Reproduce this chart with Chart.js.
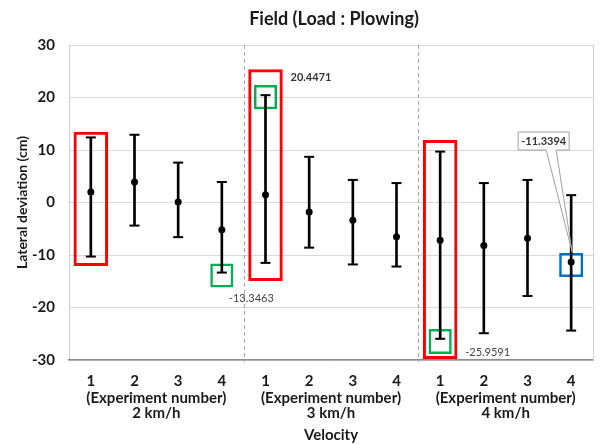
<!DOCTYPE html>
<html><head><meta charset="utf-8">
<script src="https://cdn.jsdelivr.net/npm/chart.js@4.4.0/dist/chart.umd.min.js"></script>
<style>html,body{margin:0;padding:0;background:#fff}#wrap{width:600px;height:444px}</style>
</head><body><div id="wrap"><canvas id="c" width="600" height="444"></canvas></div>
<script>
// ---- data ----
const experimentLabels = ['1','2','3','4','1','2','3','4','1','2','3','4'];
const velocityLabels = [['(Experiment number)','2 km/h'],['(Experiment number)','3 km/h'],['(Experiment number)','4 km/h']];
const chartTitle = 'Field (Load : Plowing)';
const yTitle = 'Lateral deviation (cm)';
const xTitle = 'Velocity';
const meanValues  = [2.0, 3.9, 0.1, -5.2, 1.5, -1.8, -3.4, -6.5, -7.2, -8.2, -6.8, -11.3394];
const upperValues = [12.4, 12.9, 7.6, 3.9, 20.4471, 8.7, 4.3, 3.7, 9.7, 3.7, 4.3, 1.4];
const lowerValues = [-10.3, -4.4, -6.6, -13.3463, -11.5, -8.6, -11.8, -12.2, -25.9591, -24.9, -17.8, -24.4];
const redBoxes   = [[-12.1,13.5],null,null,null,[-14.95,25.4],null,null,null,[-29.8,11.9],null,null,null];
const greenBoxes = [null,null,null,[-16.2,-11.6],[17.75,22.4],null,null,null,[-28.85,-24.1],null,null,null];
const blueBoxes  = [null,null,null,null,null,null,null,null,null,null,null,[-14.2,-9.6]];
const yTicks = [-30, -20, -10, 0, 10, 20, 30];

const FONT = 'Lato, "Open Sans", sans-serif';

// annotation placement (styles / offsets)
const notes = [
  {idx: 4, series: 'upper', dx: 25, dy: -18, bold: true, color: '#333'},
  {idx: 3, series: 'lower', dx: 7, dy: 26, bold: false, color: '#444'},
  {idx: 8, series: 'lower', dx: 25, dy: 14, bold: false, color: '#444'}
];
const callout = {idx: 11, series: 'mean'};

function seriesVal(s, i){ return s==='upper'?upperValues[i]:s==='lower'?lowerValues[i]:meanValues[i]; }

const decor = {
  id: 'decor',
  beforeDatasetsDraw(chart){
    const {ctx, chartArea: a, scales: {x}} = chart;
    ctx.save();
    ctx.strokeStyle = '#d0d0d0'; ctx.lineWidth = 1;
    ctx.beginPath(); ctx.moveTo(a.right+0.5, a.top); ctx.lineTo(a.right+0.5, a.bottom); ctx.stroke();
    ctx.strokeStyle = '#a6a6a6'; ctx.setLineDash([4,3]);
    [3.5, 7.5].forEach(v => {
      const px = Math.round(x.getPixelForValue(v)) + 0.5;
      ctx.beginPath(); ctx.moveTo(px, a.top); ctx.lineTo(px, a.bottom+2); ctx.stroke();
    });
    ctx.restore();
  },
  afterDatasetsDraw(chart){
    const {ctx, chartArea: a, scales: {x, y}} = chart;
    ctx.save();
    ctx.fillStyle = '#1a1a1a';
    ctx.font = 'bold 18px ' + FONT;
    ctx.textAlign = 'center'; ctx.textBaseline = 'middle';
    ctx.fillText(chartTitle, (a.left + a.right)/2 + 3, 19);
    ctx.textAlign = 'left';
    notes.forEach(n => {
      const v = seriesVal(n.series, n.idx);
      const px = x.getPixelForValue(n.idx), py = y.getPixelForValue(v);
      ctx.font = (n.bold ? 'bold ' : '') + '11px ' + FONT;
      ctx.fillStyle = n.color;
      ctx.fillText(v.toFixed(4), px + n.dx, py + n.dy);
    });
    const cv = seriesVal(callout.series, callout.idx);
    const cx = x.getPixelForValue(callout.idx), cy = y.getPixelForValue(cv);
    const bx1 = cx - 53, bx2 = cx - 2, by1 = cy - 130, by2 = cy - 112;
    ctx.beginPath();
    ctx.moveTo(bx1, by1); ctx.lineTo(bx2, by1); ctx.lineTo(bx2, by2);
    ctx.lineTo(cx - 15, by2); ctx.lineTo(cx + 1, cy - 10); ctx.lineTo(cx - 25, by2);
    ctx.lineTo(bx1, by2); ctx.closePath();
    ctx.fillStyle = 'rgba(255,255,255,0.85)'; ctx.fill();
    ctx.strokeStyle = '#a0a0a0'; ctx.lineWidth = 1; ctx.stroke();
    ctx.font = 'bold 11px ' + FONT; ctx.fillStyle = '#333'; ctx.textAlign = 'center';
    ctx.fillText(cv.toFixed(4), (bx1 + bx2)/2, (by1 + by2)/2 + 0.5);
    ctx.restore();
  }
};

const boxDs = (data, color, pct, bw) => ({
  type: 'bar', data, backgroundColor: 'rgba(0,0,0,0)', borderColor: color, borderWidth: bw,
  borderSkipped: false, grouped: false, barPercentage: pct, categoryPercentage: 1, order: 3
});

new Chart(document.getElementById('c'), {
  type: 'bar',
  data: {
    labels: experimentLabels,
    datasets: [
      {type: 'line', data: meanValues, showLine: false, pointStyle: 'circle', pointRadius: 3.5,
       pointBackgroundColor: '#000', pointBorderColor: '#000', pointBorderWidth: 0, order: 0},
      {type: 'line', data: upperValues, showLine: false, pointStyle: 'line', pointRadius: 5,
       pointBorderColor: '#000', pointBorderWidth: 2, order: 1},
      {type: 'line', data: lowerValues, showLine: false, pointStyle: 'line', pointRadius: 5,
       pointBorderColor: '#000', pointBorderWidth: 2, order: 1},
      {type: 'bar', data: lowerValues.map((l, i) => [l, upperValues[i]]), backgroundColor: '#000',
       barThickness: 2, grouped: false, order: 2},
      boxDs(redBoxes, '#ff0000', 0.79, 3),
      boxDs(greenBoxes, '#00b050', 0.53, 2.5),
      boxDs(blueBoxes, '#0070c0', 0.55, 2.5)
    ]
  },
  options: {
    responsive: false, devicePixelRatio: 1, animation: false,
    layout: {padding: {top: 45, right: 3, left: 0, bottom: 0}},
    plugins: {legend: {display: false}, tooltip: {enabled: false}, title: {display: false}},
    scales: {
      y: {
        min: -30, max: 30,
        afterBuildTicks(s){ s.ticks = yTicks.map(v => ({value: v})); },
        afterFit(s){ s.width = 69; },
        ticks: {padding: 14, color: '#1a1a1a', font: {family: FONT, size: 15, weight: 'bold'}},
        grid: {color: '#d9d9d9', drawTicks: false},
        border: {color: '#d0d0d0'},
        title: {display: true, text: yTitle, color: '#1a1a1a', padding: {top: 14, bottom: 0},
                font: {family: FONT, size: 14, weight: 'bold'}}
      },
      x: {
        weight: 0,
        afterFit(s){ s.height = 30; },
        ticks: {padding: 12, autoSkip: false, maxRotation: 0, color: '#1a1a1a',
                font: {family: FONT, size: 15, weight: 'bold'}},
        grid: {display: false, drawTicks: false},
        border: {display: true, color: '#8c8c8c', width: 1.5}
      },
      x2: {
        type: 'category', labels: velocityLabels, position: 'bottom', weight: 1,
        afterFit(s){ s.height = 54; },
        ticks: {padding: 0.5, autoSkip: false, maxRotation: 0, color: '#1a1a1a',
                font: {family: FONT, size: 15, weight: 'bold', lineHeight: 1.0}},
        grid: {display: false, drawTicks: false},
        border: {display: false},
        title: {display: true, text: xTitle, color: '#1a1a1a', padding: {top: 0, bottom: 0},
                font: {family: FONT, size: 15, weight: 'bold'}}
      }
    }
  },
  plugins: [decor]
});
</script></body></html>
